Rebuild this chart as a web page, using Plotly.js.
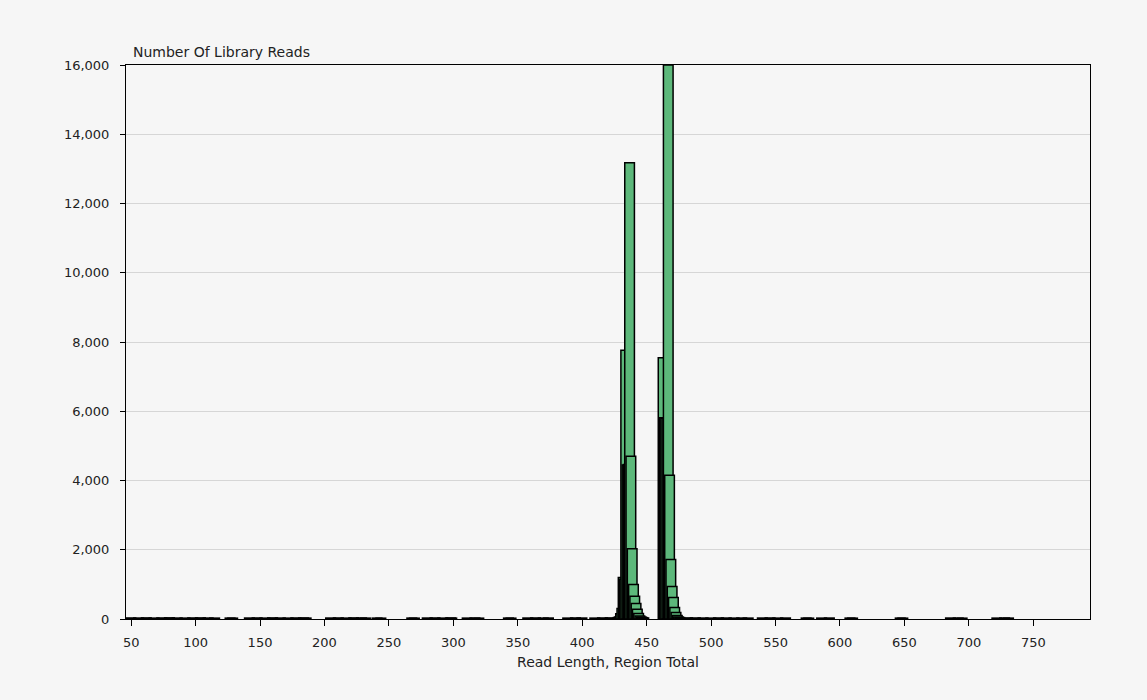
<!DOCTYPE html>
<html>
<head>
<meta charset="utf-8">
<script src="https://cdn.plot.ly/plotly-3.0.1.min.js"></script>
<style>
  html, body { margin: 0; padding: 0; background: #f6f6f6; }
  #chart { width: 1147px; height: 700px; }
</style>
</head>
<body>
<div id="chart"></div>
<script>
// Read-length bins (left edge) with sparse low counts along the baseline
const baseLengths = [46, 52, 58, 64, 70, 76, 82, 88, 94, 100, 106, 111,
  123, 125, 138, 144, 150, 156, 162, 168, 174, 180, 182,
  201, 207, 213, 219, 225, 228, 237, 240, 264, 266,
  276, 282, 288, 294, 295, 307, 313, 316, 339, 341,
  354, 360, 366, 370, 385, 391, 396, 406, 412, 418,
  478, 484, 490, 496, 502, 508, 514, 520, 525,
  536, 542, 548, 554, 570, 572, 582, 588, 604, 606,
  643, 645, 682, 688, 691, 718, 724, 727];
const baseReads = [30, 28, 32, 26, 30, 34, 28, 26, 30, 32, 28, 26,
  26, 24, 28, 30, 26, 32, 28, 26, 30, 28, 26,
  28, 30, 26, 32, 28, 26, 26, 24, 26, 24,
  28, 30, 26, 28, 26, 26, 28, 24, 26, 24,
  28, 30, 26, 28, 26, 30, 28, 26, 30, 32,
  32, 30, 28, 26, 30, 28, 26, 28, 26,
  28, 30, 26, 28, 26, 24, 26, 28, 26, 24,
  26, 24, 28, 26, 24, 26, 28, 26];

// First peak
const peak1Lengths = [424, 425, 426, 427, 428, 429, 430, 431, 432, 433, 434, 435,
  436, 437, 438, 439, 440, 441, 442, 443, 444];
const peak1Reads = [40, 60, 150, 300, 1200, 1150, 7760, 4450, 4460, 13180, 4700, 2030,
  1000, 660, 450, 280, 160, 90, 60, 40, 30];

// Second peak
const peak2Lengths = [459, 460, 461, 462, 463, 464, 465, 466, 467, 468, 469, 470, 471, 472];
const peak2Reads = [7545, 5810, 5800, 5790, 16000, 4150, 1720, 940, 620, 330, 190, 100, 60, 40];

const yTicks = [0, 2000, 4000, 6000, 8000, 10000, 12000, 14000, 16000];
const xTicks = [50, 100, 150, 200, 250, 300, 350, 400, 450, 500, 550, 600, 650, 700, 750];

// merge and sort by read length so bars overlap in order
const pts = [];
[[baseLengths, baseReads], [peak1Lengths, peak1Reads], [peak2Lengths, peak2Reads]].forEach(([xs, ys]) => {
  xs.forEach((x, i) => pts.push([x, ys[i]]));
});
pts.sort((a, b) => a[0] - b[0]);

const trace = {
  type: 'bar',
  x: pts.map(p => p[0]),
  y: pts.map(p => p[1]),
  width: 7.5,
  offset: 0,
  marker: { color: '#5db87b', line: { color: '#000000', width: 1.5 } },
  hoverinfo: 'x+y'
};

const tickFont = { family: 'DejaVu Sans, sans-serif', size: 13, color: '#222222' };
const titleFont = { family: 'DejaVu Sans, sans-serif', size: 14, color: '#222222' };

const layout = {
  width: 1147, height: 700,
  paper_bgcolor: '#f6f6f6', plot_bgcolor: '#f6f6f6',
  margin: { l: 126, r: 57, t: 65, b: 81 },
  font: tickFont,
  showlegend: false,
  xaxis: {
    range: [46, 794],
    tickvals: xTicks,
    ticktext: xTicks.map(String),
    ticks: 'outside', ticklen: 6, tickcolor: '#000', tickwidth: 1,
    ticklabelstandoff: 5,
    showline: true, linecolor: '#000', linewidth: 1, mirror: true,
    showgrid: false, zeroline: false,
    tickfont: tickFont,
    title: { text: 'Read Length, Region Total', font: titleFont, standoff: 8 }
  },
  yaxis: {
    range: [0, 16000],
    tickvals: yTicks,
    ticktext: yTicks.map(v => v.toLocaleString('en-US')),
    ticks: 'outside', ticklen: 5, tickcolor: '#000', tickwidth: 1,
    ticklabelstandoff: 8,
    showline: true, linecolor: '#000', linewidth: 1, mirror: true,
    showgrid: true, gridcolor: '#d6d6d6', gridwidth: 1,
    zeroline: false,
    tickfont: tickFont
  },
  annotations: [{
    text: 'Number Of Library Reads',
    xref: 'paper', yref: 'paper', x: 0, y: 1,
    xanchor: 'left', yanchor: 'bottom', xshift: 5, yshift: 3,
    showarrow: false, font: titleFont
  }]
};

Plotly.newPlot('chart', [trace], layout, { displayModeBar: false, staticPlot: true });
</script>
</body>
</html>
